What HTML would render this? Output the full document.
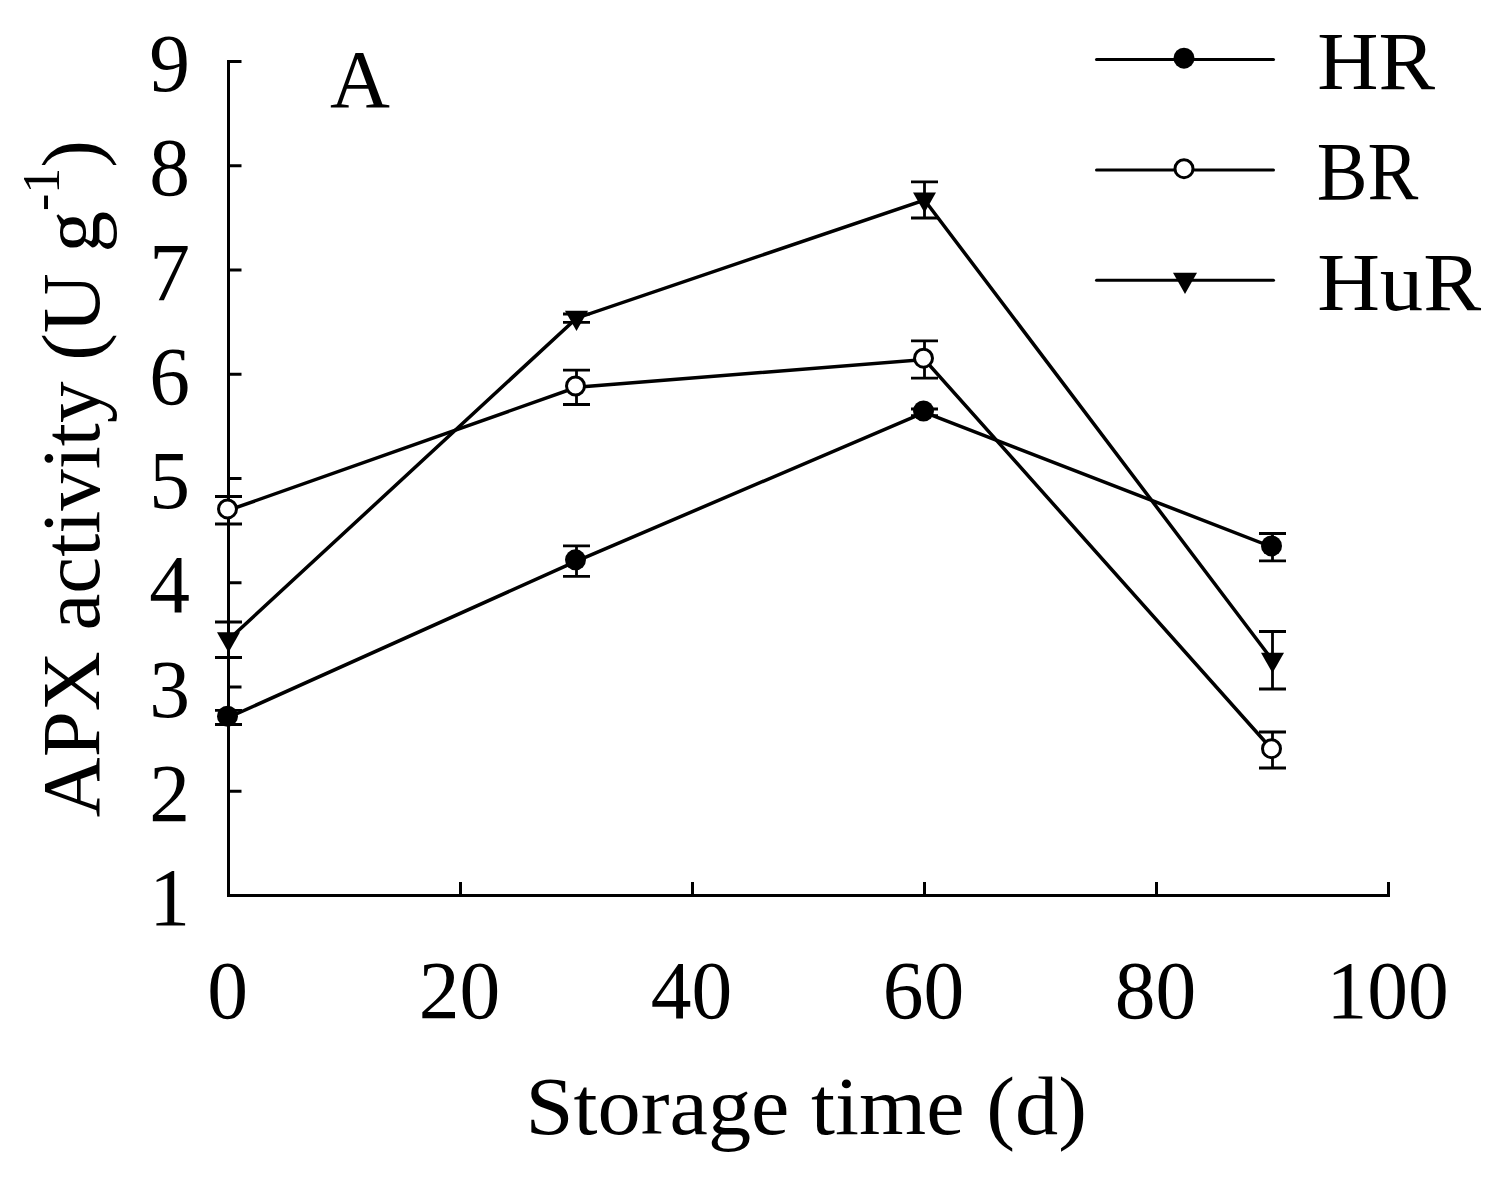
<!DOCTYPE html>
<html><head><meta charset="utf-8"><style>
html,body{margin:0;padding:0;background:#fff;}
svg{display:block;}
text{font-family:"Liberation Serif",serif;}
</style></head><body>
<svg width="1499" height="1177" viewBox="0 0 1499 1177">
<rect width="1499" height="1177" fill="#fff"/>
<g stroke="#000" stroke-width="3" fill="none" stroke-linecap="butt">
<path d="M228.5,60 V896"/>
<path d="M227,895.5 H1388.5 V882"/>
<path d="M228.5,791.25 H241.5"/>
<path d="M228.5,687.00 H241.5"/>
<path d="M228.5,582.75 H241.5"/>
<path d="M228.5,478.50 H241.5"/>
<path d="M228.5,374.25 H241.5"/>
<path d="M228.5,270.00 H241.5"/>
<path d="M228.5,165.75 H241.5"/>
<path d="M228.5,61.50 H241.5"/>
<path d="M460.50,895.5 V882"/>
<path d="M692.50,895.5 V882"/>
<path d="M924.50,895.5 V882"/>
<path d="M1156.50,895.5 V882"/>
</g>
<path d="M228.50,710.40 V724.50 M215.00,710.40 H242.00 M215.00,724.50 H242.00" stroke="#000" stroke-width="2.8" fill="none"/>
<path d="M576.50,545.85 V576.40 M563.00,545.85 H590.00 M563.00,576.40 H590.00" stroke="#000" stroke-width="2.8" fill="none"/>
<path d="M924.50,409.00 V415.60 M911.00,409.00 H938.00 M911.00,415.60 H938.00" stroke="#000" stroke-width="2.8" fill="none"/>
<path d="M1272.50,533.50 V560.90 M1259.00,533.50 H1286.00 M1259.00,560.90 H1286.00" stroke="#000" stroke-width="2.8" fill="none"/>
<path d="M228.50,496.50 V524.00 M215.00,496.50 H242.00 M215.00,524.00 H242.00" stroke="#000" stroke-width="2.8" fill="none"/>
<path d="M576.50,370.20 V404.50 M563.00,370.20 H590.00 M563.00,404.50 H590.00" stroke="#000" stroke-width="2.8" fill="none"/>
<path d="M924.50,340.90 V378.10 M911.00,340.90 H938.00 M911.00,378.10 H938.00" stroke="#000" stroke-width="2.8" fill="none"/>
<path d="M1272.50,732.00 V768.00 M1259.00,732.00 H1286.00 M1259.00,768.00 H1286.00" stroke="#000" stroke-width="2.8" fill="none"/>
<path d="M228.50,622.00 V657.50 M215.00,622.00 H242.00 M215.00,657.50 H242.00" stroke="#000" stroke-width="2.8" fill="none"/>
<path d="M576.50,314.00 V322.30 M563.00,314.00 H590.00 M563.00,322.30 H590.00" stroke="#000" stroke-width="2.8" fill="none"/>
<path d="M924.50,181.90 V218.00 M911.00,181.90 H938.00 M911.00,218.00 H938.00" stroke="#000" stroke-width="2.8" fill="none"/>
<path d="M1272.50,631.50 V689.00 M1259.00,631.50 H1286.00 M1259.00,689.00 H1286.00" stroke="#000" stroke-width="2.8" fill="none"/>
<polyline points="228.50,717.50 576.50,561.10 924.50,412.30 1272.50,547.20" fill="none" stroke="#000" stroke-width="3.5" stroke-linejoin="miter"/>
<polyline points="228.50,510.25 576.50,387.30 924.50,359.50 1272.50,750.00" fill="none" stroke="#000" stroke-width="3.5" stroke-linejoin="miter"/>
<polyline points="228.50,639.75 576.50,318.20 924.50,200.00 1272.50,660.25" fill="none" stroke="#000" stroke-width="3.5" stroke-linejoin="miter"/>
<circle cx="227.50" cy="716.20" r="10.5" fill="#000"/>
<circle cx="575.50" cy="559.80" r="10.5" fill="#000"/>
<circle cx="923.50" cy="411.00" r="10.5" fill="#000"/>
<circle cx="1271.50" cy="545.90" r="10.5" fill="#000"/>
<circle cx="227.50" cy="508.95" r="9.0" fill="#fff" stroke="#000" stroke-width="3.0"/>
<circle cx="575.50" cy="386.00" r="9.0" fill="#fff" stroke="#000" stroke-width="3.0"/>
<circle cx="923.50" cy="358.20" r="9.0" fill="#fff" stroke="#000" stroke-width="3.0"/>
<circle cx="1271.50" cy="748.70" r="9.0" fill="#fff" stroke="#000" stroke-width="3.0"/>
<path d="M217.00,632.25 L240.00,632.25 L228.50,652.55 Z" fill="#000"/>
<path d="M565.00,310.70 L588.00,310.70 L576.50,331.00 Z" fill="#000"/>
<path d="M913.00,192.50 L936.00,192.50 L924.50,212.80 Z" fill="#000"/>
<path d="M1261.00,652.75 L1284.00,652.75 L1272.50,673.05 Z" fill="#000"/>
<g stroke="#000" stroke-width="3" stroke-linecap="round">
<path d="M1096.5,59.5 H1273.5"/>
<path d="M1096.5,170 H1273.5"/>
<path d="M1096.5,280.3 H1273.5"/>
</g>
<circle cx="1184" cy="58.2" r="10.5" fill="#000"/>
<circle cx="1184" cy="168.7" r="9.0" fill="#fff" stroke="#000" stroke-width="3.0"/>
<path d="M1173.00,272.70 L1197.00,272.70 L1185.00,294.00 Z" fill="#000"/>
<text x="169.5" y="925.10" font-family="Liberation Serif, serif" font-size="81.5" text-anchor="middle">1</text>
<text x="169.5" y="820.85" font-family="Liberation Serif, serif" font-size="81.5" text-anchor="middle">2</text>
<text x="169.5" y="716.60" font-family="Liberation Serif, serif" font-size="81.5" text-anchor="middle">3</text>
<text x="169.5" y="612.35" font-family="Liberation Serif, serif" font-size="81.5" text-anchor="middle">4</text>
<text x="169.5" y="508.10" font-family="Liberation Serif, serif" font-size="81.5" text-anchor="middle">5</text>
<text x="169.5" y="403.85" font-family="Liberation Serif, serif" font-size="81.5" text-anchor="middle">6</text>
<text x="169.5" y="299.60" font-family="Liberation Serif, serif" font-size="81.5" text-anchor="middle">7</text>
<text x="169.5" y="195.35" font-family="Liberation Serif, serif" font-size="81.5" text-anchor="middle">8</text>
<text x="169.5" y="91.10" font-family="Liberation Serif, serif" font-size="81.5" text-anchor="middle">9</text>
<text x="227.50" y="1017.8" font-family="Liberation Serif, serif" font-size="81.5" text-anchor="middle">0</text>
<text x="459.50" y="1017.8" font-family="Liberation Serif, serif" font-size="81.5" text-anchor="middle">20</text>
<text x="691.50" y="1017.8" font-family="Liberation Serif, serif" font-size="81.5" text-anchor="middle">40</text>
<text x="923.50" y="1017.8" font-family="Liberation Serif, serif" font-size="81.5" text-anchor="middle">60</text>
<text x="1155.50" y="1017.8" font-family="Liberation Serif, serif" font-size="81.5" text-anchor="middle">80</text>
<text x="1387.50" y="1017.8" font-family="Liberation Serif, serif" font-size="81.5" text-anchor="middle">100</text>
<text x="330" y="107" font-family="Liberation Serif, serif" font-size="83">A</text>
<text transform="translate(1317.25,88.8) scale(1.0212,1)" font-family="Liberation Serif, serif" font-size="83">HR</text>
<text transform="translate(1316.81,199) scale(0.9176,1)" font-family="Liberation Serif, serif" font-size="83">BR</text>
<text transform="translate(1317.14,309.5) scale(1.0458,1)" font-family="Liberation Serif, serif" font-size="83">HuR</text>
<text transform="translate(525.56,1134) scale(1.041,1)" font-family="Liberation Serif, serif" font-size="83">Storage time (d)</text>
<text transform="translate(98.75,817.3) rotate(-90)" font-family="Liberation Serif, serif" font-size="83">APX activity (U g<tspan font-size="52" dy="-40">-1</tspan><tspan dy="40">)</tspan></text>
</svg>
</body></html>
